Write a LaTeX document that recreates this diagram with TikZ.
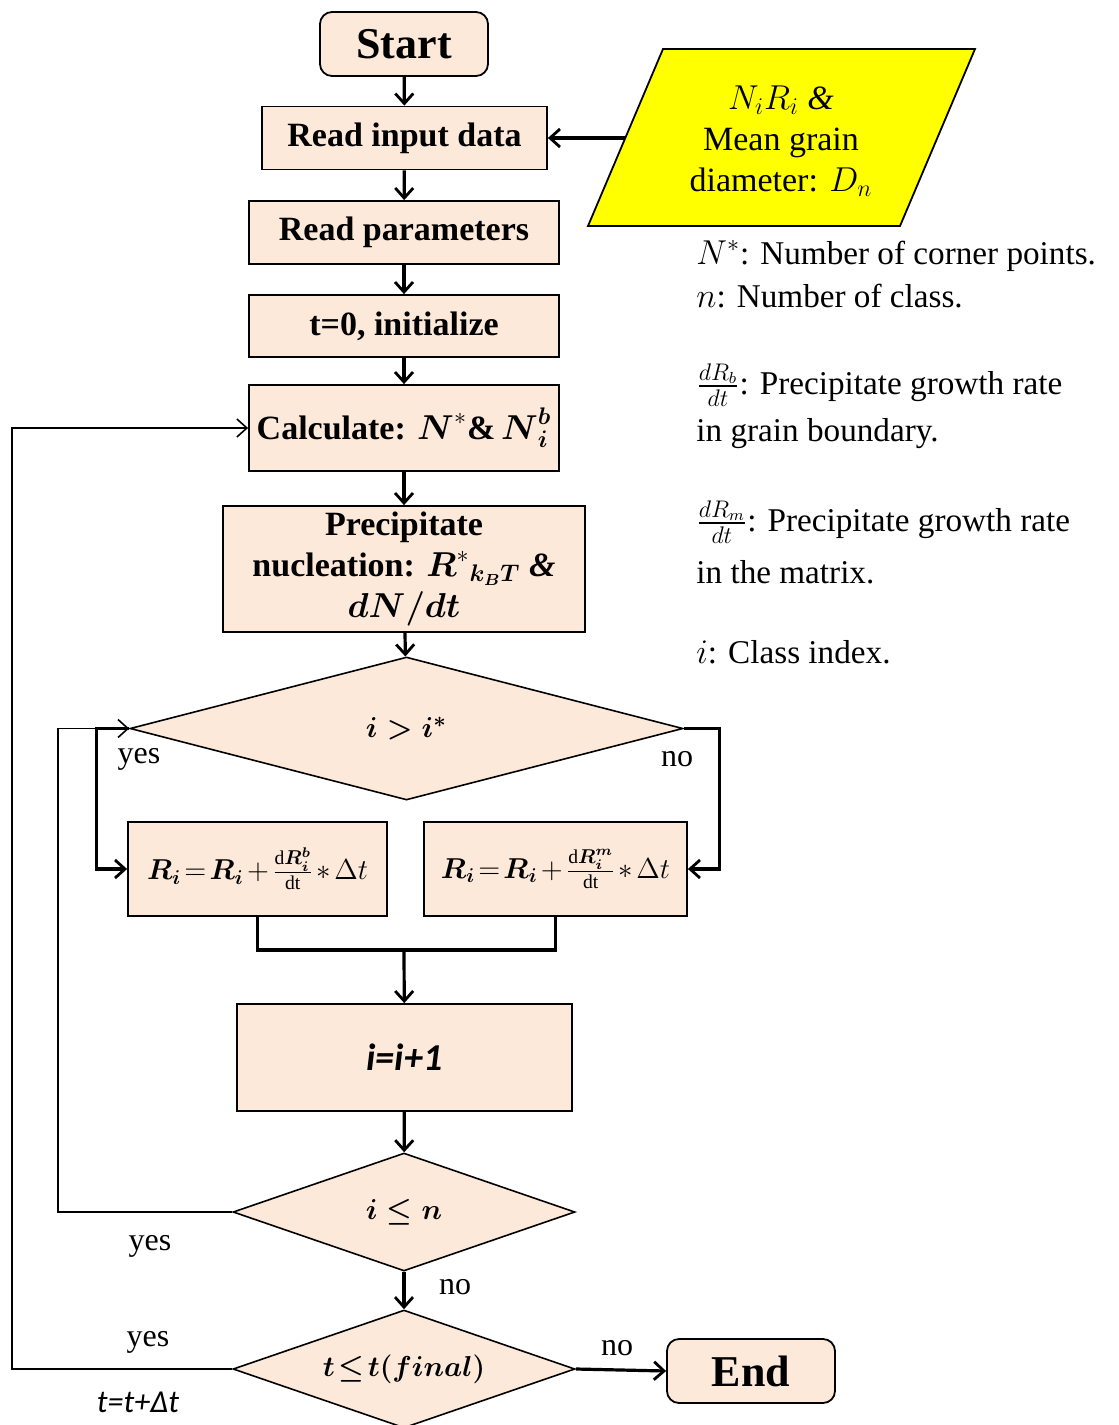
\documentclass[tikz,border=0pt]{standalone}
\usepackage{amsmath}
\usepackage{fontspec}
\setmainfont{Liberation Serif}
\newfontfamily\calib{Carlito}
\usetikzlibrary{shapes.geometric,arrows.meta}
\definecolor{peach}{HTML}{FDE9D9}
\definecolor{inyellow}{HTML}{FFFF00}
\newcommand{\tightmath}{\thickmuskip=2mu plus 1mu\medmuskip=2mu plus 1mu}
\begin{document}
\begin{tikzpicture}[x=0.5pt,y=-0.5pt,
  box/.style={draw, line width=0.9pt, fill=peach, inner sep=0pt, align=center,
    font=\fontsize{17}{20.5}\selectfont\bfseries},
  dia/.style={draw, diamond, line width=0.8pt, fill=peach, inner sep=0pt, aspect=2.5,
    font=\fontsize{15}{18}\selectfont\bfseries},
  arr/.style={line width=1.6pt, -{Straight Barb[length=5pt,width=9pt,line width=1.4pt]}},
  thinarr/.style={line width=0.8pt, -{Straight Barb[length=5pt,width=9pt,line width=0.8pt]}},
  conn/.style={line width=1.6pt},
  lbl/.style={inner sep=0pt, font=\fontsize{16}{19}\selectfont},
  note/.style={inner sep=0pt, anchor=west, font=\fontsize{16.6}{19}\selectfont},
]
\useasboundingbox (0,0) rectangle (1119,1425);

% main column
\node[box, rounded corners=6pt, minimum width=84pt, minimum height=32pt,
      font=\fontsize{22}{26}\selectfont\bfseries] (start) at (404,44) {Start};
\node[box, minimum width=142.5pt, minimum height=31.5pt] (read) at (404.5,138) {Read input data};
\node[box, minimum width=155pt, minimum height=31.5pt] (par) at (404,232.5) {Read parameters};
\node[box, minimum width=155pt, minimum height=31pt] (init) at (404,326) {t=0, initialize};
\node[box, minimum width=155pt, minimum height=43pt] (calc) at (404,428)
  {Calculate: $\boldsymbol{N}^{*}$\&\,$\boldsymbol{N}_{\boldsymbol{i}}^{\boldsymbol{b}}$};
\node[box, minimum width=181pt, minimum height=63pt] (nuc) at (404,569)
  {Precipitate\\ nucleation: $\boldsymbol{R}^{*}{}_{\boldsymbol{k_BT}}$ \textit{\&}\\ $\boldsymbol{dN/dt}$};
\node[dia, minimum width=276.5pt, minimum height=71.5pt] (d1) at (406.5,728.5) {$\boldsymbol{i>i^*}$};
\node[box, minimum width=129.5pt, minimum height=47pt, font=\fontsize{14}{17}\selectfont] (lb) at (257.5,869)
  {\tightmath$\boldsymbol{R_i} = \boldsymbol{R_i} + \frac{\mathrm{d}\boldsymbol{R_i^b}}{\mathrm{dt}} * \Delta t$};
\node[box, minimum width=131.5pt, minimum height=47pt, font=\fontsize{14}{17}\selectfont] (rb) at (555.5,869)
  {\tightmath$\boldsymbol{R_i} = \boldsymbol{R_i} + \frac{\mathrm{d}\boldsymbol{R_i^m}}{\mathrm{dt}} * \Delta t$};
\node[box, minimum width=167.5pt, minimum height=53.5pt, font=\calib\fontsize{19}{22}\selectfont\bfseries\itshape] (inc) at (404.5,1057.5) {i=i+1};
\node[dia, minimum width=171pt, minimum height=59pt] (d2) at (404,1212) {$\boldsymbol{i\leq n}$};
\node[dia, minimum width=171pt, minimum height=59pt] (d3) at (404,1369) {\tightmath$\boldsymbol{t\leq t(final)}$};
\node[box, rounded corners=6pt, minimum width=84pt, minimum height=32pt,
      font=\fontsize{22}{26}\selectfont\bfseries] (endn) at (751,1371) {End};

% input parallelogram
\draw[fill=inyellow, line width=0.9pt] (663,49) -- (975,49) -- (900,226) -- (588,226) -- cycle;
\node[inner sep=0pt, align=center, font=\fontsize{17}{20.5}\selectfont] (inp) at (781,141)
  {$N_iR_i$ \textit{\&}\\ Mean grain\\ diameter: $D_n$};
\coordinate (inpL) at (625,138);

% notes
\node[note] (n1) at (696,256) {$N^*$: Number of corner points.};
\node[note] (n2) at (696,296) {$n$: Number of class.};
\node[note] (n3) at (696,385) {$\frac{dR_b}{dt}$: Precipitate growth rate};
\node[note] (n4) at (696,434) {in grain boundary.};
\node[note] (n5) at (696,522) {$\frac{dR_m}{dt}$: Precipitate growth rate};
\node[note] (n6) at (696,572) {in the matrix.};
\node[note] (n7) at (696,652) {$i$: Class index.};

% connectors
\draw[arr] (start) -- (read);
\draw[arr] (read) -- (par);
\draw[arr] (par) -- (init);
\draw[arr] (init) -- (calc);
\draw[arr] (calc) -- (nuc);
\draw[arr] (nuc) -- (d1);
\draw[arr] (inpL) -- (read.east);
\draw[arr] (d1.west) -- ++(-33,0) |- (lb.west);
\draw[arr] (d1.east) -- ++(36,0) |- (rb.east);
\draw[conn] (lb.south) -- ++(0,33) -| (rb.south);
\coordinate (m) at (404,949);
\draw[arr] (m) -- (inc);
\draw[arr] (inc) -- (d2);
\draw[arr] (d2) -- (d3);
\draw[thinarr] (d2.west) -- ++(-174,0) |- (d1.west);
\draw[thinarr] (d3.west) -- ++(-220,0) |- (calc.west);
\draw[arr] (d3.east) -- (endn.west);

% labels
\node[lbl] (y1) at (139,759) {yes};
\node[lbl] (no1) at (677,759) {no};
\node[lbl] (y2) at (150,1246) {yes};
\node[lbl] (no2) at (455,1287) {no};
\node[lbl] (y3) at (148,1342) {yes};
\node[lbl] (no3) at (617,1348) {no};
\node[lbl, font=\calib\fontsize{16}{19}\selectfont\itshape] (tt) at (138,1402) {t=t+Δt};
\end{tikzpicture}
\end{document}
